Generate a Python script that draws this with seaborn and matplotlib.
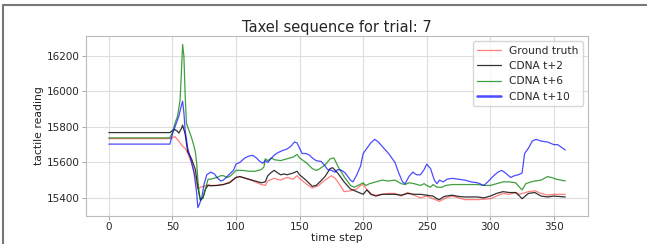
import matplotlib
matplotlib.use('Agg')
import matplotlib.pyplot as plt
from matplotlib.lines import Line2D
import seaborn as sns

# ground truth
gt_t = [0, 48, 50, 52, 55, 58, 60, 62, 65, 68, 70, 72, 75, 78, 80, 85, 90, 95, 100, 103,
        110, 115, 120, 123, 125, 130, 135, 140, 145, 148, 150, 155, 160, 165, 170, 175, 178,
        182, 185, 190, 195, 198, 200, 203, 207, 210, 215, 220, 225, 230, 235, 240, 245, 250,
        255, 260, 265, 270, 275, 280, 290, 300, 305, 310, 315, 320, 323, 330, 335, 340, 345,
        350, 359]
gt_v = [15734, 15734, 15740, 15745, 15720, 15690, 15680, 15650, 15600, 15520, 15450, 15460,
        15465, 15475, 15470, 15470, 15475, 15490, 15515, 15520, 15505, 15490, 15475, 15470,
        15495, 15510, 15500, 15515, 15505, 15525, 15510, 15480, 15455, 15470, 15500, 15525,
        15510, 15470, 15435, 15440, 15450, 15470, 15475, 15445, 15420, 15415, 15420, 15425,
        15425, 15410, 15430, 15415, 15400, 15410, 15395, 15380, 15400, 15410, 15400, 15390,
        15390, 15395, 15410, 15425, 15420, 15430, 15420, 15435, 15440, 15425, 15415, 15420,
        15420]

# CDNA t+2
t2_t = [0, 48, 50, 52, 54, 55, 57, 58, 60, 62, 65, 68, 70, 72, 74, 76, 78, 80, 85, 90, 95,
        100, 103, 110, 115, 120, 123, 125, 128, 130, 133, 135, 138, 140, 145, 148, 150, 155,
        160, 163, 166, 170, 174, 176, 180, 185, 190, 195, 200, 203, 206, 210, 215, 220, 225,
        230, 235, 240, 245, 250, 255, 258, 260, 263, 265, 270, 275, 280, 290, 295, 300, 305,
        310, 315, 320, 323, 325, 330, 335, 340, 345, 350, 359]
t2_v = [15768, 15768, 15780, 15785, 15775, 15765, 15790, 15810, 15760, 15660, 15620, 15560,
        15460, 15390, 15400, 15450, 15470, 15468, 15470, 15475, 15485, 15515, 15520, 15505,
        15495, 15485, 15490, 15525, 15545, 15555, 15540, 15530, 15535, 15530, 15540, 15550,
        15530, 15500, 15465, 15470, 15490, 15520, 15565, 15570, 15540, 15490, 15450, 15435,
        15420, 15445, 15420, 15410, 15420, 15420, 15420, 15415, 15425, 15420, 15420, 15415,
        15410, 15395, 15390, 15405, 15410, 15415, 15408, 15405, 15405, 15400, 15410, 15425,
        15435, 15430, 15430, 15410, 15395, 15425, 15430, 15410, 15405, 15410, 15405]

# CDNA t+6
t6_t = [0, 48, 50, 52, 54, 56, 57, 58, 59, 60, 61, 63, 65, 67, 68, 69, 70, 71, 72, 74, 76,
        78, 80, 85, 88, 90, 93, 95, 98, 100, 105, 110, 115, 120, 122, 123, 125, 128, 130, 135,
        140, 145, 148, 150, 155, 160, 163, 165, 170, 174, 177, 180, 185, 190, 193, 196, 200,
        202, 205, 210, 215, 220, 225, 230, 233, 236, 240, 245, 248, 250, 253, 255, 258, 262,
        265, 270, 280, 290, 295, 300, 305, 310, 315, 320, 323, 325, 328, 332, 335, 340, 345,
        348, 352, 359]
t6_v = [15738, 15738, 15770, 15820, 15860, 15950, 16100, 16265, 16200, 15980, 15820, 15780,
        15740, 15690, 15660, 15600, 15500, 15420, 15385, 15400, 15450, 15505, 15505, 15515,
        15525, 15525, 15515, 15520, 15540, 15555, 15555, 15550, 15550, 15560, 15575, 15620,
        15610, 15625, 15615, 15610, 15620, 15630, 15645, 15625, 15600, 15565, 15555, 15560,
        15585, 15620, 15625, 15580, 15520, 15470, 15460, 15470, 15485, 15470, 15480, 15490,
        15500, 15495, 15500, 15480, 15475, 15485, 15480, 15470, 15480, 15470, 15460, 15475,
        15460, 15460, 15470, 15475, 15475, 15475, 15470, 15470, 15480, 15490, 15490, 15485,
        15460, 15445, 15480, 15490, 15495, 15500, 15520, 15515, 15505, 15495]

# CDNA t+10
t10_t = [0, 48, 50, 52, 55, 57, 58, 59, 60, 62, 65, 67, 69, 70, 71, 73, 75, 77, 80, 83, 85,
         88, 90, 93, 95, 98, 100, 103, 107, 110, 113, 116, 118, 121, 123, 125, 128, 130, 133,
         136, 140, 143, 146, 148, 150, 152, 155, 158, 160, 163, 167, 170, 172, 175, 178, 180,
         183, 186, 190, 192, 195, 198, 200, 203, 206, 209, 212, 215, 220, 225, 228, 231, 233,
         236, 239, 242, 245, 248, 250, 253, 256, 258, 260, 263, 266, 270, 275, 280, 285, 290,
         295, 298, 302, 306, 309, 312, 316, 319, 322, 325, 327, 330, 333, 336, 340, 345, 350,
         353, 356, 359]
t10_v = [15703, 15703, 15760, 15800, 15860, 15920, 15945, 15880, 15780, 15680, 15600, 15540,
         15430, 15345, 15360, 15400, 15480, 15530, 15545, 15535, 15515, 15495, 15500, 15520,
         15535, 15555, 15590, 15600, 15625, 15635, 15640, 15625, 15610, 15595, 15610, 15600,
         15625, 15640, 15655, 15665, 15675, 15690, 15715, 15710, 15680, 15650, 15650, 15640,
         15625, 15610, 15605, 15580, 15560, 15555, 15545, 15560, 15555, 15540, 15500, 15490,
         15530, 15580, 15650, 15680, 15710, 15730, 15715, 15690, 15650, 15600, 15540, 15490,
         15480, 15520, 15545, 15530, 15530, 15560, 15590, 15565, 15500, 15480, 15500, 15490,
         15505, 15510, 15505, 15500, 15490, 15485, 15470, 15490, 15520, 15545, 15555, 15540,
         15515, 15525, 15530, 15540, 15650, 15680, 15720, 15730, 15720, 15715, 15700, 15700,
         15685, 15670]

series = [
    ('Ground truth', gt_t, gt_v, 'red', 0.5),
    ('CDNA t+2', t2_t, t2_v, 'black', 0.8),
    ('CDNA t+6', t6_t, t6_v, 'green', 0.75),
    ('CDNA t+10', t10_t, t10_v, 'blue', 0.7),
]

sns.set_style('whitegrid')
plt.rcParams['font.family'] = ['DejaVu Sans']
fig = plt.figure(figsize=(6.47, 2.44), dpi=100)
ax = fig.add_axes([0.133, 0.115, 0.776, 0.737])

for name, t, v, c, a in series:
    sns.lineplot(x=t, y=v, color=c, alpha=a, linewidth=0.9, label=name, ax=ax)

ax.set_xlim(-17.95, 376.95)
ax.set_ylim(15298, 16312)
ax.set_xticks([0, 50, 100, 150, 200, 250, 300, 350])
ax.set_yticks([15400, 15600, 15800, 16000, 16200])
ax.tick_params(labelsize=7.5, length=3, width=0.6, color='#999999', left=True, bottom=True, pad=1.5)
ax.grid(color='#dddddd', linewidth=0.8)
for s in ax.spines.values():
    s.set_color('#bbbbbb')
    s.set_linewidth(0.8)

ax.set_title('Taxel sequence for trial: 7', fontsize=10.5, pad=3)
ax.set_xlabel('time step', fontsize=7.8, labelpad=0.5)
ax.set_ylabel('tactile reading', fontsize=7.8, labelpad=2)

leg = ax.legend(loc='upper right', fontsize=7.7, frameon=True, handlelength=2.2)
leg.get_lines()[3].set_linewidth(1.8)

# gray frame of the screenshot
fig.add_artist(Line2D([3 / 647, 1], [1 - 5 / 244, 1 - 5 / 244], transform=fig.transFigure,
                      color='#777777', linewidth=1.5))
fig.add_artist(Line2D([3 / 647, 3 / 647], [0, 1 - 5 / 244], transform=fig.transFigure,
                      color='#777777', linewidth=1.5))

fig.savefig('out.png', dpi=100)
